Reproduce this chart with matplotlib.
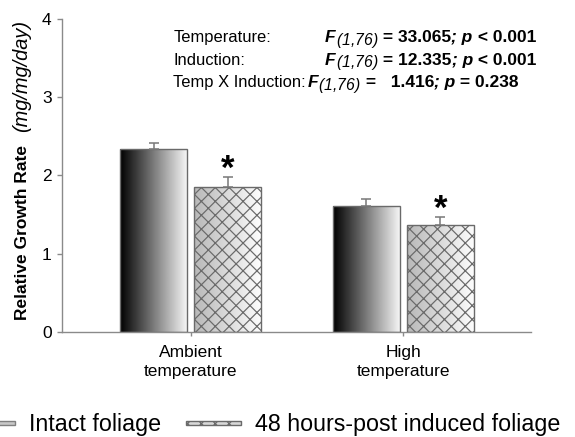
import numpy as np
import matplotlib
matplotlib.use("Agg")
import matplotlib.pyplot as plt
from matplotlib.patches import Patch
from matplotlib.offsetbox import TextArea, HPacker, AnnotationBbox

plt.rcParams['font.family'] = ['Liberation Sans', 'DejaVu Sans']
plt.rcParams['hatch.linewidth'] = 0.7
# mathtext only used for the italic subscript
plt.rcParams['mathtext.fontset'] = 'custom'
plt.rcParams['mathtext.it'] = 'Liberation Sans:italic'
plt.rcParams['mathtext.rm'] = 'Liberation Sans:italic'

# data
groups = ['Ambient\ntemperature', 'High\ntemperature']
intact = [2.34, 1.61]
intact_err = [0.08, 0.09]
induced = [1.85, 1.37]
induced_err = [0.13, 0.10]
signif = [True, True]
series_names = ['Intact foliage', '48 hours-post induced foliage']
stats_labels = ['Temperature:', 'Induction:', 'Temp X Induction:']
stats_f = ['33.065', '12.335', '  1.416']
stats_p = ['< 0.001', '< 0.001', '= 0.238']

fig = plt.figure(figsize=(4.6, 3.496), dpi=125)
ax = fig.add_axes([0.1078, 0.2403, 0.8157, 0.7162])

x = np.arange(len(groups))
width = 0.315
off = 0.174
grad = np.linspace(0, 1, 256).reshape(1, -1)

def gradient_bars(xpos, heights, lo, hi, hatch):
    bars = ax.bar(xpos, heights, width, facecolor='none', edgecolor='#6a6a6a',
                  linewidth=0.8, hatch=hatch, zorder=3)
    for b in bars:
        x0, y0 = b.get_x(), b.get_y()
        im = ax.imshow(lo + (hi - lo) * grad, cmap='gray', vmin=0, vmax=1,
                       extent=(x0, x0 + b.get_width(), y0, y0 + b.get_height()),
                       aspect='auto', interpolation='bicubic', zorder=2)
        im.set_clip_path(b)
    return bars

gradient_bars(x - off, intact, 0.0, 0.96, None)
gradient_bars(x + off, induced, 0.72, 0.99, 'xxx')

ekw = dict(fmt='none', ecolor='#7a7a7a', elinewidth=0.9, capsize=2.8, capthick=0.9, zorder=4)
ax.errorbar(x - off, intact, yerr=[np.zeros(2), intact_err], **ekw)
ax.errorbar(x + off, induced, yerr=[np.zeros(2), induced_err], **ekw)

for xi, h, e, s in zip(x + off, induced, induced_err, signif):
    if s:
        ax.annotate('*', xy=(xi, h + e), xytext=(0, -5), textcoords='offset points',
                    ha='center', va='bottom', fontsize=20, fontweight='bold')

ax.set_xlim(-0.606, 1.60)
ax.set_ylim(0, 4)
ax.set_yticks([0, 1, 2, 3, 4])
ax.set_xticks(x)
ax.set_xticklabels(groups, fontsize=10, linespacing=1.3)
for lab, dx in zip(ax.get_xticklabels(), [15, 7]):
    lab.set_transform(lab.get_transform() +
                      matplotlib.transforms.ScaledTranslation(dx / 125, 0, fig.dpi_scale_trans))
ax.tick_params(axis='y', labelsize=10, length=3, width=0.8, color='#8a8a8a', pad=3)
ax.tick_params(axis='x', length=2.5, width=0.8, color='#8a8a8a', pad=5)
for sp in ['top', 'right']:
    ax.spines[sp].set_visible(False)
for sp in ['left', 'bottom']:
    ax.spines[sp].set_color('#8a8a8a')
    ax.spines[sp].set_linewidth(0.8)

# y label: bold + italic parts
fig.text(27 / 575, 1 - 320 / 437, 'Relative Growth Rate', rotation=90, rotation_mode='anchor',
         ha='left', va='baseline', fontsize=10, fontweight='bold')
fig.text(27 / 575, 1 - 132 / 437, '(mg/mg/day)', rotation=90, rotation_mode='anchor',
         ha='left', va='baseline', fontsize=11.5, fontstyle='italic')

# ANOVA text
ys = [0.942, 0.869, 0.796]
bi = dict(fontsize=10, fontweight='bold', fontstyle='italic')
b = dict(fontsize=10, fontweight='bold')
for i, (lab, fv, pv, yy) in enumerate(zip(stats_labels, stats_f, stats_p, ys)):
    parts = [TextArea('F', textprops=bi),
             TextArea(r'$_{(1{,}76)}$', textprops=dict(fontsize=13)),
             TextArea(' = ' + fv, textprops=b),
             TextArea('; p', textprops=bi),
             TextArea(' ' + pv, textprops=b)]
    fpart = HPacker(children=parts, align='baseline', pad=0, sep=0)
    lab_area = TextArea(lab, textprops=dict(fontsize=9.5))
    if i < 2:
        ax.add_artist(AnnotationBbox(lab_area, (0.237, yy), xycoords='axes fraction',
                                     box_alignment=(0, 0.5), frameon=False, pad=0))
        ax.add_artist(AnnotationBbox(fpart, (0.561, yy), xycoords='axes fraction',
                                     box_alignment=(0, 0.5), frameon=False, pad=0))
    else:
        row = HPacker(children=[lab_area, fpart], align='baseline', pad=0, sep=1)
        ax.add_artist(AnnotationBbox(row, (0.237, yy), xycoords='axes fraction',
                                     box_alignment=(0, 0.5), frameon=False, pad=0))

handles = [Patch(facecolor='#c8c8c8', edgecolor='#808080', linewidth=0.8),
           Patch(facecolor='#d8d8d8', edgecolor='#6a6a6a', linewidth=0.8, hatch='xxx')]
fig.legend(handles, series_names, loc='center left', bbox_to_anchor=(-40 / 575, 1 - 425 / 437),
           ncol=2, frameon=False, fontsize=13.4, handlelength=2.35, handleheight=-0.1,
           handletextpad=0.6, columnspacing=1.1, borderpad=0, borderaxespad=0)

fig.savefig('out.png', dpi=125)
